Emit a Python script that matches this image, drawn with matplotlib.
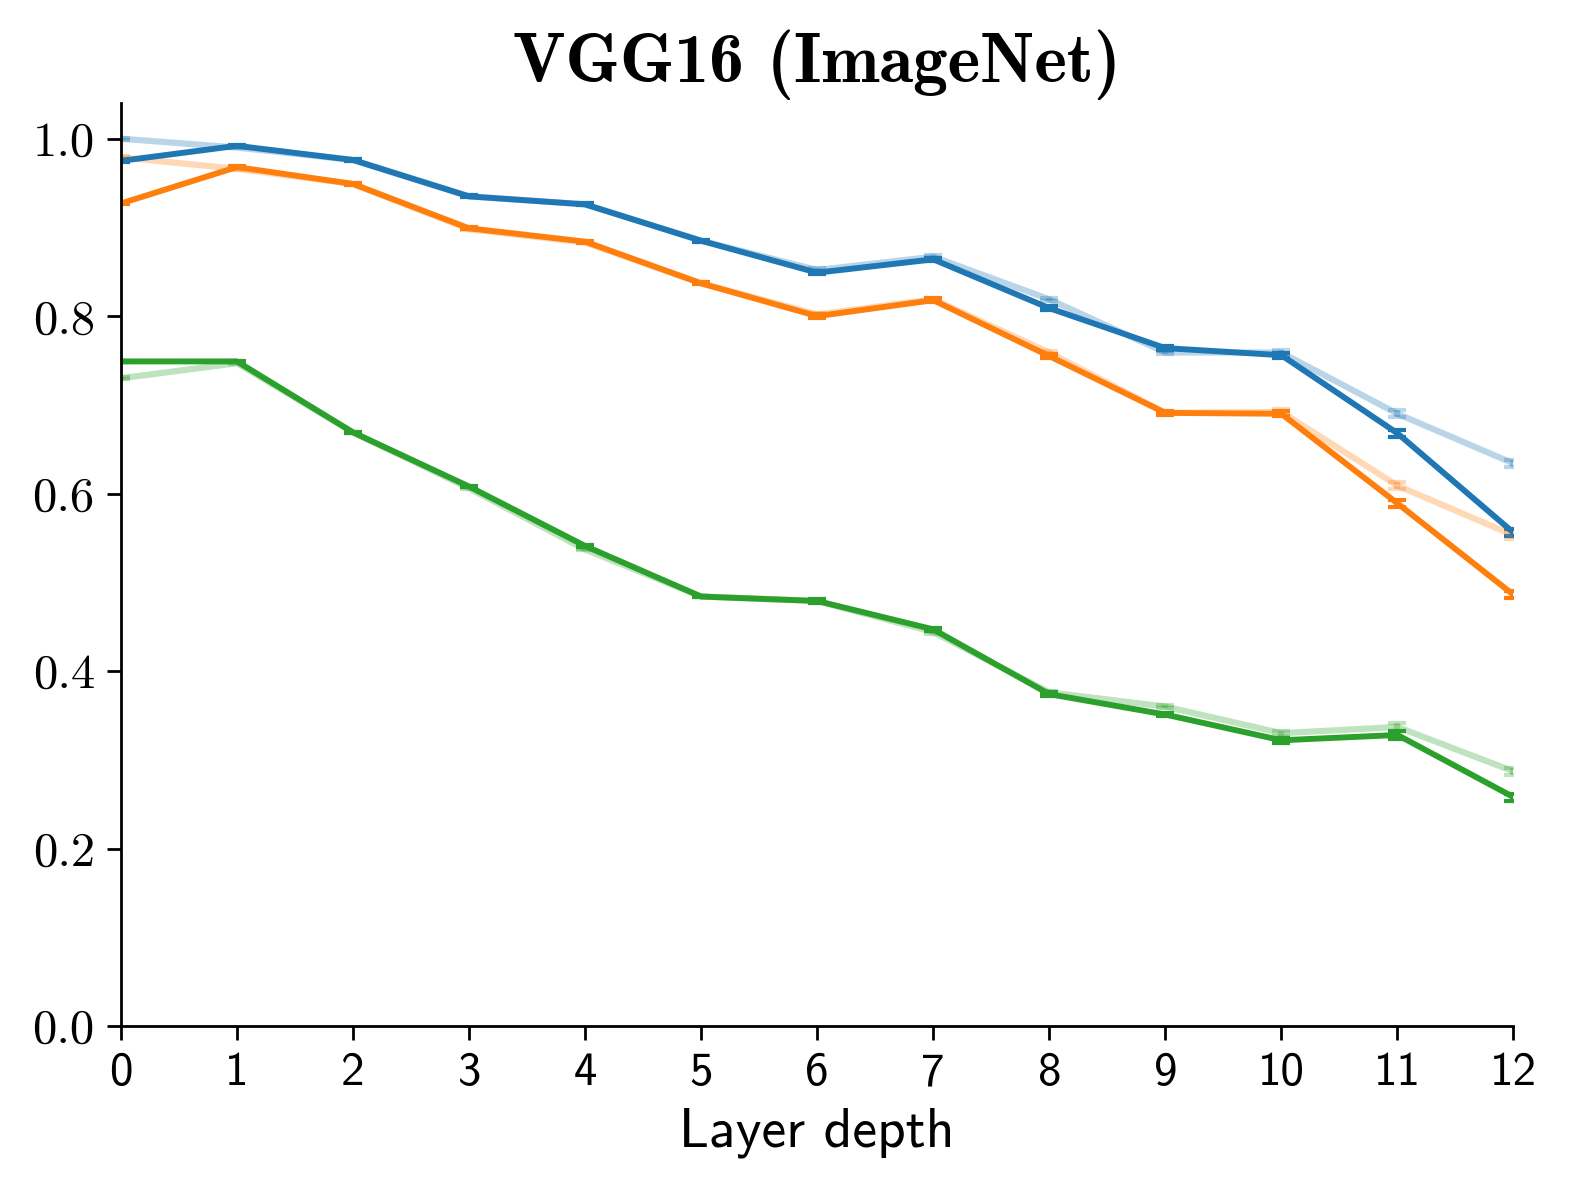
import numpy as np
import matplotlib
matplotlib.use("Agg")
import matplotlib.pyplot as plt

plt.rcParams['font.family'] = ['cmr10', 'DejaVu Serif']
plt.rcParams['axes.unicode_minus'] = False

capas = list(range(13))

# lineas oscuras
azul = [0.975, 0.992, 0.976, 0.935, 0.926, 0.885, 0.849, 0.864, 0.809, 0.764, 0.756, 0.668, 0.556]
naranja = [0.927, 0.968, 0.949, 0.899, 0.884, 0.837, 0.800, 0.818, 0.755, 0.691, 0.690, 0.589, 0.486]
verde = [0.749, 0.749, 0.669, 0.608, 0.541, 0.484, 0.479, 0.447, 0.374, 0.351, 0.322, 0.328, 0.258]

# lineas claras
azul_c = [1.000, 0.990, 0.976, 0.935, 0.926, 0.885, 0.852, 0.867, 0.819, 0.759, 0.759, 0.690, 0.634]
naranja_c = [0.979, 0.966, 0.949, 0.898, 0.883, 0.837, 0.802, 0.819, 0.759, 0.691, 0.692, 0.609, 0.553]
verde_c = [0.730, 0.747, 0.669, 0.606, 0.537, 0.484, 0.479, 0.444, 0.376, 0.360, 0.330, 0.337, 0.287]

# errores (muy pequenos)
err = [0.001, 0.001, 0.001, 0.001, 0.001, 0.001, 0.002, 0.002, 0.002, 0.002, 0.003, 0.004, 0.004]

colores = ['#1f77b4', '#ff7f0e', '#2ca02c']
yticks = [0.0, 0.2, 0.4, 0.6, 0.8, 1.0]

fig, ax = plt.subplots(figsize=(6.28, 4.8), dpi=250)
fig.subplots_adjust(left=0.077, right=0.964, bottom=0.145, top=0.914)

for datos, c in zip([azul_c, naranja_c, verde_c], colores):
    ax.errorbar(capas, datos, yerr=err, color=c, alpha=0.3, lw=1.8, capsize=2.5, capthick=1.2)
for datos, c in zip([azul, naranja, verde], colores):
    ax.errorbar(capas, datos, yerr=err, color=c, lw=1.7, capsize=2.5, capthick=1.2)

ax.set_xlim(0, 12)
ax.set_ylim(0, 1.04)
ax.set_xticks(capas)
ax.set_xticklabels([str(i) for i in capas], fontsize=13.5, fontfamily='cmss10')
ax.set_yticks(yticks)
ax.set_yticklabels(['%.1f' % v for v in yticks], fontsize=14, fontfamily='cmr10')
ax.tick_params(length=4)
ax.set_xlabel('Layer depth', fontsize=16, fontfamily='cmss10')
ax.set_title('VGG16 (ImageNet)', fontsize=20, fontfamily='cmb10')
ax.spines['top'].set_visible(False)
ax.spines['right'].set_visible(False)

plt.savefig("out.png", dpi=250)
